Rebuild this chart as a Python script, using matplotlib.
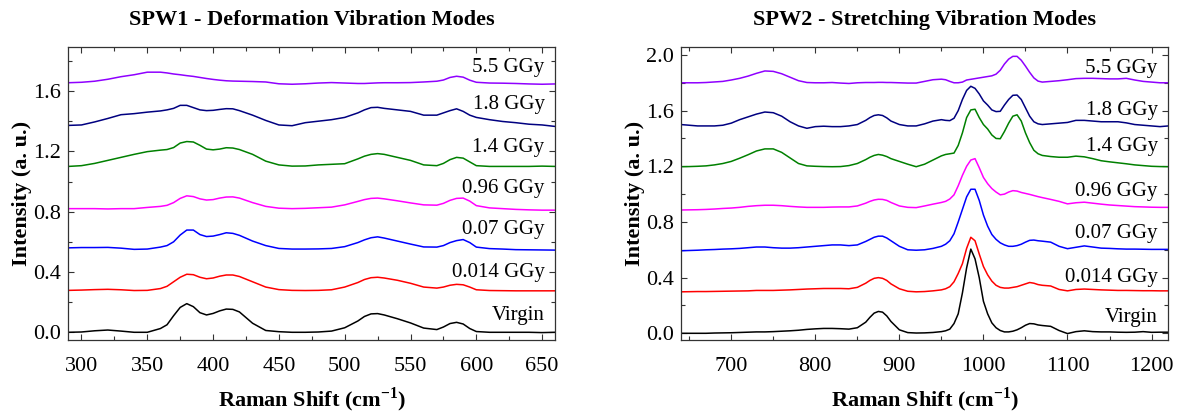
# -*- coding: utf-8 -*-

import numpy as np
import matplotlib
matplotlib.use('Agg')
import matplotlib.pyplot as plt
from matplotlib.ticker import MultipleLocator

plt.rcParams['font.family'] = ['Liberation Serif', 'DejaVu Serif']
plt.rcParams['mathtext.fontset'] = 'custom'
plt.rcParams['mathtext.rm'] = 'Liberation Serif'
plt.rcParams['mathtext.bf'] = 'Liberation Serif:bold'

# series names (bottom to top) and colours
labels = ['Virgin', '0.014 GGy', '0.07 GGy', '0.96 GGy', '1.4 GGy', '1.8 GGy', '5.5 GGy']
colors = ['#000000', '#FF0000', '#0000FF', '#FF00FF', '#008000', '#000080', '#8F00FF']

# ---------- SPW1 : deformation modes ----------
x1 = [290, 300, 310, 320, 330, 340, 350, 360, 365, 370, 375, 380, 385, 390, 395, 400,
      405, 410, 415, 420, 430, 440, 450, 460, 470, 480, 490, 500, 510, 515, 520, 525,
      530, 540, 550, 560, 570, 575, 580, 585, 590, 595, 600, 610, 620, 630, 640, 650, 660]

virgin1 = [0.000, 0.002, 0.010, 0.015, 0.008, 0.000, 0.000, 0.025, 0.050, 0.110, 0.165, 0.190,
           0.170, 0.130, 0.115, 0.125, 0.142, 0.154, 0.152, 0.135, 0.060, 0.012, 0.004, 0.000,
           0.000, 0.002, 0.008, 0.030, 0.075, 0.105, 0.122, 0.124, 0.115, 0.090, 0.062, 0.028,
           0.018, 0.035, 0.058, 0.066, 0.055, 0.025, 0.005, 0.000, 0.000, 0.000, 0.000, -0.002, 0.000]
g0014_1 = [0.278, 0.280, 0.283, 0.285, 0.282, 0.277, 0.278, 0.290, 0.305, 0.335, 0.365, 0.385,
           0.382, 0.365, 0.355, 0.360, 0.372, 0.380, 0.380, 0.370, 0.335, 0.300, 0.283, 0.278,
           0.277, 0.278, 0.282, 0.300, 0.330, 0.350, 0.362, 0.365, 0.360, 0.345, 0.325, 0.300,
           0.293, 0.300, 0.312, 0.318, 0.315, 0.300, 0.282, 0.277, 0.276, 0.275, 0.275, 0.275, 0.275]
g007_1 = [0.560, 0.562, 0.562, 0.563, 0.558, 0.550, 0.552, 0.565, 0.575, 0.600, 0.645, 0.678,
          0.678, 0.648, 0.635, 0.638, 0.648, 0.660, 0.656, 0.643, 0.605, 0.575, 0.556, 0.552,
          0.552, 0.553, 0.556, 0.568, 0.595, 0.613, 0.627, 0.633, 0.625, 0.605, 0.585, 0.566,
          0.565, 0.575, 0.595, 0.608, 0.615, 0.595, 0.565, 0.555, 0.552, 0.548, 0.547, 0.546, 0.545]
g096_1 = [0.820, 0.820, 0.820, 0.818, 0.820, 0.820, 0.828, 0.835, 0.842, 0.860, 0.888, 0.905,
          0.900, 0.885, 0.877, 0.880, 0.890, 0.897, 0.898, 0.890, 0.860, 0.835, 0.823, 0.820,
          0.822, 0.826, 0.830, 0.845, 0.868, 0.880, 0.888, 0.890, 0.885, 0.872, 0.858, 0.845,
          0.843, 0.855, 0.875, 0.888, 0.890, 0.870, 0.840, 0.825, 0.820, 0.815, 0.812, 0.810, 0.810]
g14_1 = [1.100, 1.105, 1.120, 1.140, 1.160, 1.180, 1.198, 1.208, 1.212, 1.225, 1.255, 1.265,
         1.262, 1.240, 1.215, 1.210, 1.215, 1.224, 1.222, 1.212, 1.180, 1.135, 1.110, 1.102,
         1.103, 1.110, 1.114, 1.118, 1.150, 1.168, 1.180, 1.185, 1.180, 1.160, 1.140, 1.110,
         1.105, 1.120, 1.145, 1.160, 1.155, 1.130, 1.105, 1.100, 1.100, 1.100, 1.100, 1.102, 1.100]
g18_1 = [1.372, 1.375, 1.395, 1.418, 1.443, 1.450, 1.460, 1.468, 1.475, 1.485, 1.505, 1.505,
         1.490, 1.475, 1.470, 1.472, 1.478, 1.483, 1.482, 1.470, 1.440, 1.405, 1.375, 1.370,
         1.390, 1.400, 1.410, 1.425, 1.455, 1.475, 1.490, 1.492, 1.485, 1.475, 1.465, 1.440,
         1.440, 1.455, 1.470, 1.482, 1.465, 1.440, 1.425, 1.410, 1.398, 1.390, 1.380, 1.375, 1.365]
g55_1 = [1.655, 1.658, 1.665, 1.678, 1.695, 1.708, 1.725, 1.725, 1.720, 1.713, 1.708, 1.702,
         1.697, 1.690, 1.683, 1.677, 1.672, 1.668, 1.666, 1.665, 1.663, 1.660, 1.648, 1.645,
         1.648, 1.653, 1.656, 1.653, 1.650, 1.650, 1.652, 1.654, 1.655, 1.655, 1.656, 1.660,
         1.665, 1.673, 1.690, 1.698, 1.692, 1.672, 1.658, 1.653, 1.652, 1.650, 1.647, 1.645, 1.647]

# ---------- SPW2 : stretching modes ----------
x2 = [640, 650, 660, 670, 680, 690, 700, 710, 720, 730, 740, 750, 760, 770, 780, 790,
      800, 810, 820, 830, 840, 850, 860, 865, 870, 875, 880, 885, 890, 900, 910, 920,
      930, 940, 950, 955, 960, 965, 970, 975, 980, 985, 990, 995, 1000, 1005, 1010, 1015,
      1020, 1025, 1030, 1035, 1040, 1045, 1050, 1055, 1060, 1065, 1070, 1080, 1090, 1100,
      1110, 1120, 1130, 1140, 1150, 1160, 1170, 1180, 1190, 1200, 1210, 1220]

virgin2 = [0.000, 0.000, 0.000, 0.000, 0.002, 0.003, 0.004, 0.006, 0.008, 0.010, 0.010, 0.012,
           0.015, 0.018, 0.022, 0.028, 0.032, 0.035, 0.035, 0.033, 0.030, 0.040, 0.080, 0.115,
           0.145, 0.157, 0.152, 0.125, 0.085, 0.025, 0.005, 0.002, 0.003, 0.006, 0.012, 0.018,
           0.030, 0.070, 0.140, 0.290, 0.470, 0.605, 0.535, 0.400, 0.230, 0.140, 0.075, 0.040,
           0.020, 0.010, 0.010, 0.015, 0.025, 0.040, 0.058, 0.070, 0.068, 0.060, 0.056, 0.050,
           0.020, -0.002, 0.012, 0.018, 0.012, 0.010, 0.010, 0.008, 0.007, 0.008, 0.012, 0.007,
           0.008, 0.008]
g0014_2 = [0.298, 0.299, 0.300, 0.300, 0.301, 0.302, 0.303, 0.304, 0.305, 0.308, 0.308, 0.308,
           0.310, 0.312, 0.315, 0.318, 0.320, 0.322, 0.322, 0.322, 0.320, 0.330, 0.360, 0.380,
           0.395, 0.400, 0.395, 0.380, 0.355, 0.320, 0.302, 0.298, 0.300, 0.305, 0.312, 0.320,
           0.335, 0.370, 0.430, 0.500, 0.610, 0.690, 0.665, 0.570, 0.480, 0.420, 0.375, 0.345,
           0.330, 0.325, 0.325, 0.330, 0.335, 0.345, 0.355, 0.365, 0.360, 0.350, 0.345, 0.340,
           0.315, 0.305, 0.315, 0.318, 0.315, 0.312, 0.310, 0.308, 0.308, 0.307, 0.306, 0.306,
           0.305, 0.305]
g007_2 = [0.593, 0.595, 0.597, 0.600, 0.602, 0.605, 0.607, 0.610, 0.615, 0.620, 0.620, 0.615,
          0.612, 0.612, 0.615, 0.620, 0.625, 0.630, 0.635, 0.635, 0.630, 0.635, 0.660, 0.675,
          0.690, 0.698, 0.698, 0.685, 0.665, 0.625, 0.600, 0.597, 0.600, 0.610, 0.625, 0.640,
          0.665, 0.715, 0.800, 0.890, 0.980, 1.035, 1.035, 0.955, 0.850, 0.770, 0.710, 0.675,
          0.650, 0.635, 0.625, 0.625, 0.630, 0.640, 0.655, 0.668, 0.670, 0.665, 0.662, 0.655,
          0.625, 0.608, 0.618, 0.628, 0.620, 0.612, 0.610, 0.607, 0.605, 0.605, 0.604, 0.603,
          0.603, 0.603]
g096_2 = [0.886, 0.887, 0.888, 0.890, 0.893, 0.897, 0.900, 0.905, 0.912, 0.917, 0.920, 0.920,
          0.917, 0.912, 0.908, 0.905, 0.905, 0.905, 0.907, 0.908, 0.908, 0.915, 0.935, 0.948,
          0.958, 0.963, 0.962, 0.955, 0.940, 0.915, 0.905, 0.903, 0.915, 0.928, 0.940, 0.948,
          0.965, 0.995, 1.060, 1.135, 1.200, 1.245, 1.255, 1.190, 1.120, 1.075, 1.040, 1.015,
          0.995, 1.000, 1.015, 1.025, 1.022, 1.012, 1.005, 0.998, 0.990, 0.982, 0.975, 0.962,
          0.948, 0.930, 0.938, 0.942, 0.935, 0.928, 0.922, 0.918, 0.914, 0.910, 0.908, 0.906,
          0.905, 0.905]
g14_2 = [1.197, 1.198, 1.200, 1.203, 1.210, 1.220, 1.235, 1.258, 1.283, 1.310, 1.325, 1.325,
         1.300, 1.260, 1.220, 1.203, 1.200, 1.198, 1.197, 1.198, 1.205, 1.220, 1.248, 1.265,
         1.278, 1.285, 1.280, 1.270, 1.255, 1.235, 1.215, 1.197, 1.215, 1.245, 1.275, 1.285,
         1.290, 1.295, 1.350, 1.440, 1.550, 1.605, 1.610, 1.550, 1.500, 1.468, 1.425, 1.400,
         1.398, 1.450, 1.510, 1.560, 1.570, 1.525, 1.440, 1.370, 1.315, 1.290, 1.278, 1.270,
         1.265, 1.265, 1.273, 1.268, 1.255, 1.240, 1.232, 1.225, 1.218, 1.210, 1.205, 1.200,
         1.198, 1.197]
g18_2 = [1.500, 1.495, 1.490, 1.490, 1.490, 1.495, 1.510, 1.535, 1.555, 1.575, 1.590, 1.585,
         1.560, 1.520, 1.490, 1.473, 1.485, 1.488, 1.485, 1.485, 1.490, 1.500, 1.530, 1.550,
         1.565, 1.570, 1.565, 1.548, 1.525, 1.500, 1.490, 1.490, 1.505, 1.525, 1.535, 1.530,
         1.528, 1.545, 1.600, 1.680, 1.745, 1.775, 1.760, 1.720, 1.670, 1.640, 1.605, 1.593,
         1.595, 1.640, 1.680, 1.710, 1.712, 1.680, 1.620, 1.560, 1.520, 1.505, 1.500, 1.505,
         1.510, 1.515, 1.530, 1.530, 1.525, 1.520, 1.520, 1.520, 1.512, 1.500, 1.495, 1.490,
         1.485, 1.490]
g55_2 = [1.800, 1.800, 1.800, 1.802, 1.806, 1.810, 1.820, 1.832, 1.848, 1.868, 1.885, 1.882,
         1.865, 1.840, 1.815, 1.802, 1.800, 1.800, 1.802, 1.798, 1.795, 1.800, 1.802, 1.802,
         1.802, 1.803, 1.803, 1.802, 1.802, 1.800, 1.798, 1.798, 1.810, 1.822, 1.826, 1.822,
         1.810, 1.800, 1.800, 1.805, 1.820, 1.825, 1.830, 1.835, 1.840, 1.845, 1.850, 1.862,
         1.890, 1.935, 1.970, 1.990, 1.990, 1.962, 1.920, 1.875, 1.835, 1.812, 1.805, 1.810,
         1.815, 1.822, 1.830, 1.832, 1.832, 1.830, 1.828, 1.828, 1.832, 1.820, 1.810, 1.805,
         1.800, 1.800]

series1 = [virgin1, g0014_1, g007_1, g096_1, g14_1, g18_1, g55_1]
series2 = [virgin2, g0014_2, g007_2, g096_2, g14_2, g18_2, g55_2]

# where the series names sit (data y)
lab_y1 = [0.110, 0.398, 0.679, 0.955, 1.227, 1.508, 1.753]
lab_y2 = [0.112, 0.401, 0.719, 1.017, 1.341, 1.604, 1.904]

fig = plt.figure(figsize=(11.84, 4.12), dpi=100)
ax1 = fig.add_axes([0.0577, 0.1748, 0.4113, 0.7104])
ax2 = fig.add_axes([0.575, 0.1748, 0.4118, 0.7104])

panels = [(ax1, x1, series1, lab_y1, 'SPW1 - Deformation Vibration Modes', (290, 660), (-0.051, 1.89), 50, 25),
          (ax2, x2, series2, lab_y2, 'SPW2 - Stretching Vibration Modes', (640, 1220), (-0.048, 2.055), 100, 50)]

for ax, x, series, lab_y, title, xl, yl, xmaj, xmin in panels:
    for y, c, name, ly in zip(series, colors, labels, lab_y):
        ax.plot(x, y, color=c, lw=1.1)
        ax.text(0.978, ly, name, transform=ax.get_yaxis_transform(),
                ha='right', va='center', fontsize=15)
    ax.set_xlim(*xl)
    ax.set_ylim(*yl)
    ax.xaxis.set_major_locator(MultipleLocator(xmaj))
    ax.xaxis.set_minor_locator(MultipleLocator(xmin))
    ax.yaxis.set_major_locator(MultipleLocator(0.4))
    ax.yaxis.set_minor_locator(MultipleLocator(0.2))
    ax.yaxis.set_major_formatter(plt.FormatStrFormatter('%.1f'))
    ax.tick_params(which='both', direction='in', top=True, right=True, labelsize=16,
                   color='#333333')
    ax.tick_params(which='major', length=4.5, width=0.8)
    ax.tick_params(which='minor', length=3, width=0.8)
    ax.tick_params(axis='x', which='major', pad=12)
    ax.tick_params(axis='y', which='major', pad=5)
    for s in ax.spines.values():
        s.set_linewidth(0.9)
        s.set_color('#333333')
    ax.set_title(title, fontsize=16, fontweight='bold', pad=16)
    ax.set_xlabel(r'Raman Shift (cm$^{\mathbf{-1}}$)', fontsize=16, fontweight='bold', labelpad=7)
    ax.set_ylabel('Intensity (a. u.)', fontsize=16, fontweight='bold', labelpad=1)

plt.savefig('out.png', dpi=100)
